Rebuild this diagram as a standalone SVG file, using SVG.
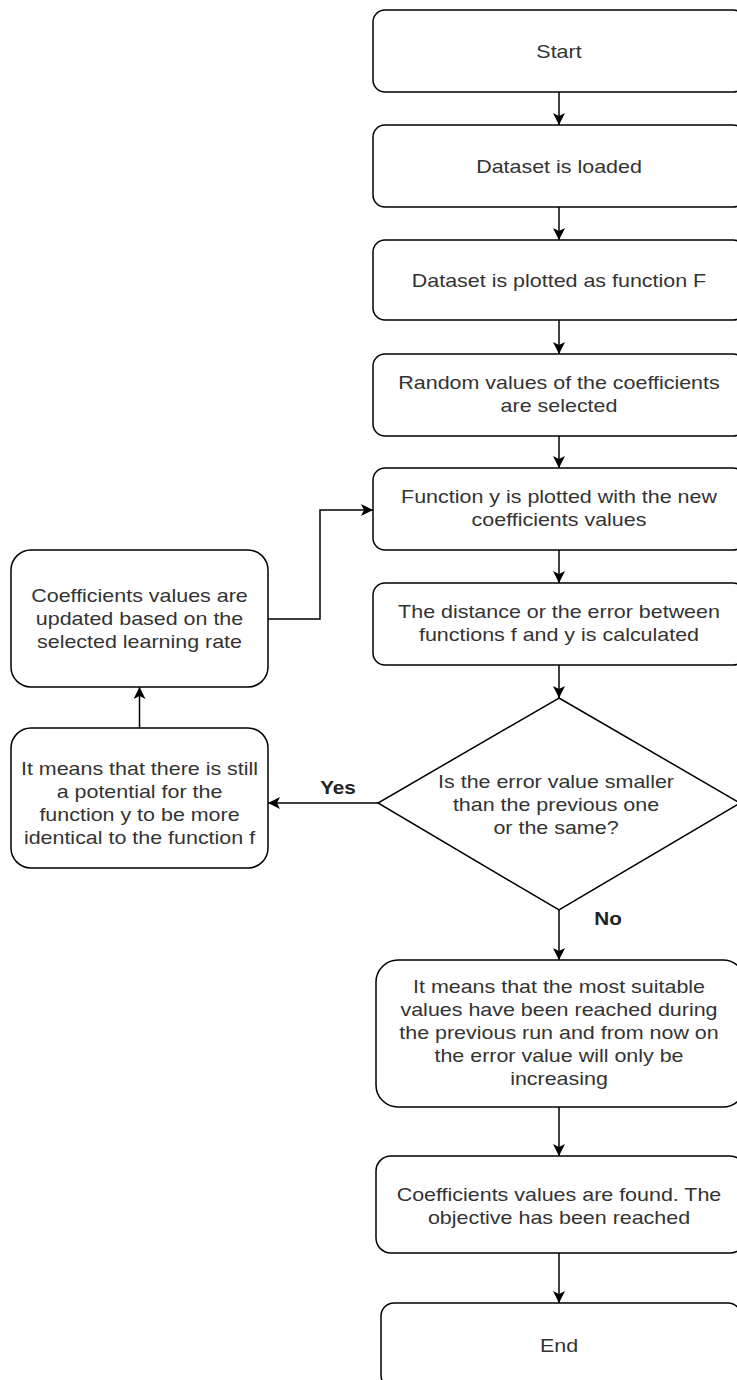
<svg xmlns="http://www.w3.org/2000/svg" width="737" height="1380" viewBox="0 0 737 1380">
<defs>
<style>
.box{fill:#fff;stroke:#000;stroke-width:1.5}
.t{font-family:"Liberation Sans",Arial,sans-serif;font-size:18.5px;fill:#333;text-anchor:middle}
.lbl{font-family:"Liberation Sans",Arial,sans-serif;font-size:18.5px;font-weight:bold;fill:#222;text-anchor:middle}
.c{fill:none;stroke:#000;stroke-width:1.5}
</style>
<marker id="ah" viewBox="0 0 10 10" refX="10" refY="5" markerWidth="12" markerHeight="12" markerUnits="userSpaceOnUse" orient="auto">
<path d="M0,0 L10,5 L0,10 L2.5,5 Z" fill="#000"/>
</marker>
</defs>
<rect width="737" height="1380" fill="#fff"/>
<g id="connectors">
<path class="c" d="M559,92 V125" marker-end="url(#ah)"/>
<path class="c" d="M559,207 V240" marker-end="url(#ah)"/>
<path class="c" d="M559,320 V354" marker-end="url(#ah)"/>
<path class="c" d="M559,436 V468" marker-end="url(#ah)"/>
<path class="c" d="M559,550 V583" marker-end="url(#ah)"/>
<path class="c" d="M559,665 V698" marker-end="url(#ah)"/>
<path class="c" d="M559,910 V960" marker-end="url(#ah)"/>
<path class="c" d="M559,1107 V1156" marker-end="url(#ah)"/>
<path class="c" d="M559,1253 V1303" marker-end="url(#ah)"/>
<path class="c" d="M378,803 H268" marker-end="url(#ah)"/>
<path class="c" d="M139.5,728 V687" marker-end="url(#ah)"/>
<path class="c" d="M268,619 H320 V510 H373" marker-end="url(#ah)"/>
<text class="lbl" transform="translate(338,794) scale(1.12,1)">Yes</text>
<text class="lbl" transform="translate(608,925) scale(1.12,1)">No</text>
</g>
<g id="start">
<rect class="box" x="373" y="10" width="372" height="82" rx="12" ry="12"/>
<text class="t" transform="translate(559,58) scale(1.16,1)">Start</text>
</g>
<g id="loaded">
<rect class="box" x="373" y="125" width="372" height="82" rx="12" ry="12"/>
<text class="t" transform="translate(559,173) scale(1.16,1)">Dataset is loaded</text>
</g>
<g id="plotted">
<rect class="box" x="373" y="240" width="372" height="80" rx="12" ry="12"/>
<text class="t" transform="translate(559,287) scale(1.16,1)">Dataset is plotted as function F</text>
</g>
<g id="random">
<rect class="box" x="373" y="354" width="372" height="82" rx="12" ry="12"/>
<text class="t" transform="translate(559,389) scale(1.16,1)"><tspan x="0" y="0">Random values of the coefficients</tspan><tspan x="0" y="23">are selected</tspan></text>
</g>
<g id="plotY">
<rect class="box" x="373" y="468" width="372" height="82" rx="12" ry="12"/>
<text class="t" transform="translate(559,503) scale(1.16,1)"><tspan x="0" y="0">Function y is plotted with the new</tspan><tspan x="0" y="23">coefficients values</tspan></text>
</g>
<g id="distance">
<rect class="box" x="373" y="583" width="372" height="82" rx="12" ry="12"/>
<text class="t" transform="translate(559,618) scale(1.16,1)"><tspan x="0" y="0">The distance or the error between</tspan><tspan x="0" y="23">functions f and y is calculated</tspan></text>
</g>
<g id="decision">
<polygon class="box" points="559,698 740,803 559,910 378,803"/>
<text class="t" transform="translate(556,788) scale(1.16,1)"><tspan x="0" y="0">Is the error value smaller</tspan><tspan x="0" y="23">than the previous one</tspan><tspan x="0" y="46">or the same?</tspan></text>
</g>
<g id="updated">
<rect class="box" x="11" y="550" width="257" height="137" rx="20" ry="20"/>
<text class="t" transform="translate(139.5,602) scale(1.16,1)"><tspan x="0" y="0">Coefficients values are</tspan><tspan x="0" y="23">updated based on the</tspan><tspan x="0" y="46">selected learning rate</tspan></text>
</g>
<g id="potential">
<rect class="box" x="11" y="728" width="257" height="140" rx="20" ry="20"/>
<text class="t" transform="translate(139.5,775) scale(1.16,1)"><tspan x="0" y="0">It means that there is still</tspan><tspan x="0" y="23">a potential for the</tspan><tspan x="0" y="46">function y to be more</tspan><tspan x="0" y="69">identical to the function f</tspan></text>
</g>
<g id="reached">
<rect class="box" x="376" y="960" width="369" height="147" rx="22" ry="22"/>
<text class="t" transform="translate(559,993) scale(1.16,1)"><tspan x="0" y="0">It means that the most suitable</tspan><tspan x="0" y="23">values have been reached during</tspan><tspan x="0" y="46">the previous run and from now on</tspan><tspan x="0" y="69">the error value will only be</tspan><tspan x="0" y="92">increasing</tspan></text>
</g>
<g id="found">
<rect class="box" x="376" y="1156" width="369" height="97" rx="15" ry="15"/>
<text class="t" transform="translate(559,1201) scale(1.16,1)"><tspan x="0" y="0">Coefficients values are found. The</tspan><tspan x="0" y="23">objective has been reached</tspan></text>
</g>
<g id="end">
<rect class="box" x="381" y="1303" width="360" height="85" rx="13" ry="13"/>
<text class="t" transform="translate(559,1352) scale(1.16,1)">End</text>
</g>
</svg>
